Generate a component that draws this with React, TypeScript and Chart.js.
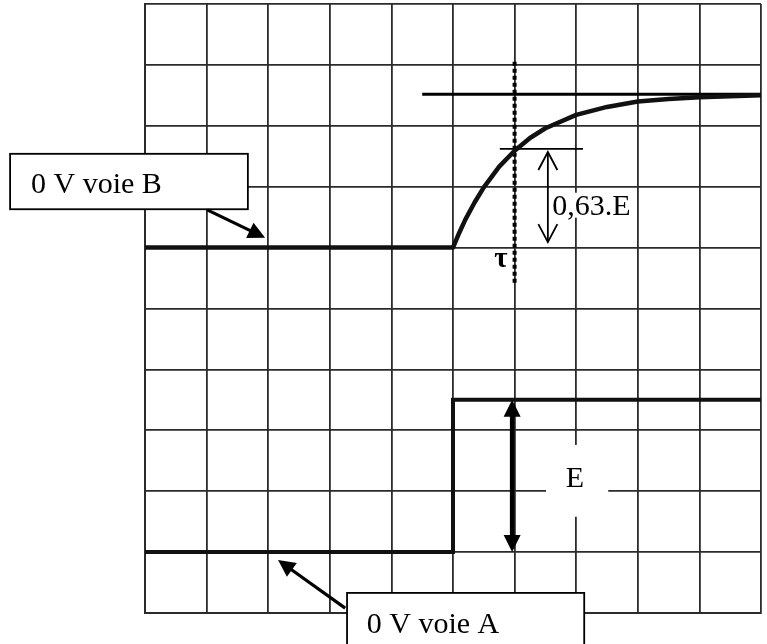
import React, { useEffect, useRef } from "react";
import { Chart, registerables } from "chart.js";

Chart.register(...registerables);

// Screen divisions (oscilloscope graticule)
const gridDivX = [0, 10];
const gridDivY = [0, 10];

// Voie B (capacitor voltage) : x in divisions, y in divisions
const voieBX = [0, 5, 5.1, 5.2, 5.35, 5.5, 5.75, 6, 6.25, 6.5, 7, 7.5, 8, 8.5, 9, 10];
const voieBY = [6, 6, 6.24, 6.46, 6.74, 6.99, 7.33, 7.59, 7.8, 7.96, 8.18, 8.31, 8.4, 8.44, 8.47, 8.5];

// Voie A (step input E)
const voieAX = [0, 5, 5, 10];
const voieAY = [1, 1, 3.5, 3.5];

// Asymptote line (final value)
const asymptoteX = [4.5, 10];
const asymptoteY = [8.52, 8.52];

// Tau marker (dotted vertical)
const tauX = [6, 6];
const tauY = [9.05, 5.42];

// 63 % level marker
const levelX = [5.76, 7.11];
const levelY = [7.62, 7.62];

const labels = {
  voieB: "0 V voie B",
  voieA: "0 V voie A",
  e63: "0,63.E",
  E: "E",
  tau: "τ",
};

const SERIF = '"Liberation Serif", "DejaVu Serif", serif';

function pts(xs: number[], ys: number[]) {
  return xs.map((x, i) => ({ x, y: ys[i] }));
}

function arrowHead(
  ctx: CanvasRenderingContext2D,
  x0: number, y0: number, x1: number, y1: number,
  len: number, half: number, filled: boolean, lw: number
) {
  const a = Math.atan2(y1 - y0, x1 - x0);
  const bx = x1 - len * Math.cos(a);
  const by = y1 - len * Math.sin(a);
  const nx = -Math.sin(a) * half;
  const ny = Math.cos(a) * half;
  ctx.beginPath();
  ctx.moveTo(bx + nx, by + ny);
  ctx.lineTo(x1, y1);
  ctx.lineTo(bx - nx, by - ny);
  if (filled) {
    ctx.closePath();
    ctx.fill();
  } else {
    ctx.lineWidth = lw;
    ctx.stroke();
  }
}

function arrow(
  ctx: CanvasRenderingContext2D,
  x0: number, y0: number, x1: number, y1: number,
  opts: { lw: number; len: number; half: number; filled: boolean; both?: boolean }
) {
  const a = Math.atan2(y1 - y0, x1 - x0);
  const inset = opts.filled ? opts.len * 0.8 : 0;
  const sx = opts.both ? x0 + inset * Math.cos(a) : x0;
  const sy = opts.both ? y0 + inset * Math.sin(a) : y0;
  const ex = x1 - inset * Math.cos(a);
  const ey = y1 - inset * Math.sin(a);
  ctx.lineWidth = opts.lw;
  ctx.lineCap = "butt";
  ctx.beginPath();
  ctx.moveTo(sx, sy);
  ctx.lineTo(ex, ey);
  ctx.stroke();
  arrowHead(ctx, x0, y0, x1, y1, opts.len, opts.half, opts.filled, opts.lw);
  if (opts.both) arrowHead(ctx, x1, y1, x0, y0, opts.len, opts.half, opts.filled, opts.lw);
}

const annotations = {
  id: "annotations",
  beforeDatasetsDraw(chart: any) {
    const { ctx } = chart;
    const px = (v: number) => chart.scales.x.getPixelForValue(v);
    const py = (v: number) => chart.scales.y.getPixelForValue(v);
    ctx.save();
    ctx.fillStyle = "#fff";
    // white patch behind "E"
    ctx.fillRect(px(6.51), py(2.76), px(7.52) - px(6.51), py(1.58) - py(2.76));
    // white patch behind "0,63.E"
    ctx.font = `30px ${SERIF}`;
    const w = ctx.measureText(labels.e63).width;
    ctx.fillRect(px(6.61) - 1, py(6.54) - 22, w + 2, 25);
    ctx.restore();
  },
  afterDatasetsDraw(chart: any) {
    const { ctx } = chart;
    const px = (v: number) => chart.scales.x.getPixelForValue(v);
    const py = (v: number) => chart.scales.y.getPixelForValue(v);
    ctx.save();
    ctx.strokeStyle = "#000";
    ctx.fillStyle = "#000";

    // 0,63.E double arrow (open heads)
    arrow(ctx, px(6.54), py(7.57), px(6.54), py(6.09), { lw: 1.8, len: 18, half: 9.5, filled: false, both: true });
    // E double arrow (filled heads)
    arrow(ctx, px(5.96), py(3.5), px(5.96), py(1.0), { lw: 4.5, len: 17, half: 8.5, filled: true, both: true });

    ctx.fillStyle = "#000";
    ctx.textBaseline = "alphabetic";
    ctx.font = `30px ${SERIF}`;
    ctx.textAlign = "left";
    ctx.fillText(labels.e63, px(6.61), py(6.54));
    ctx.textAlign = "center";
    ctx.fillText(labels.E, px(6.98), py(2.07));
    ctx.font = `bold 29px ${SERIF}`;
    ctx.fillText(labels.tau, px(5.78), py(5.68));

    // Label boxes
    const box = (x0: number, x1: number, y0: number, y1: number) => {
      const l = px(x0), r = px(x1), t = py(y0), b = py(y1);
      ctx.fillStyle = "#fff";
      ctx.fillRect(l, t, r - l, b - t);
      ctx.lineWidth = 1.8;
      ctx.strokeStyle = "#000";
      ctx.strokeRect(l, t, r - l, b - t);
    };
    box(-2.19, 1.67, 7.54, 6.63);
    box(3.28, 7.13, 0.33, -1.2);

    ctx.fillStyle = "#000";
    ctx.textAlign = "left";
    ctx.font = `30px ${SERIF}`;
    ctx.fillText(labels.voieB, px(-1.85), py(6.9));
    ctx.fillText(labels.voieA, px(3.6), py(-0.33));

    // pointer arrows
    arrow(ctx, px(1.01), py(6.62), px(1.95), py(6.16), { lw: 3.2, len: 17, half: 8.5, filled: true });
    arrow(ctx, px(3.25), py(0.08), px(2.16), py(0.87), { lw: 3.2, len: 17, half: 8.5, filled: true });
    ctx.restore();
  },
};

export default function App() {
  const canvasRef = useRef<HTMLCanvasElement | null>(null);

  useEffect(() => {
    document.body.style.margin = "0";
    const canvas = canvasRef.current;
    if (!canvas) return;
    const lineBase = {
      showLine: true,
      pointRadius: 0,
      fill: false,
      tension: 0,
      borderColor: "#111",
    };
    const chart = new Chart(canvas, {
      type: "scatter",
      data: {
        datasets: [
          { ...lineBase, label: "voie B", data: pts(voieBX, voieBY), borderWidth: 4.5, borderJoinStyle: "round" as const },
          { ...lineBase, label: "voie A", data: pts(voieAX, voieAY), borderWidth: 4, borderJoinStyle: "miter" as const },
          { ...lineBase, label: "asymptote", data: pts(asymptoteX, asymptoteY), borderWidth: 3, borderColor: "#000" },
          { ...lineBase, label: "tau", data: pts(tauX, tauY), borderWidth: 4, borderDash: [4, 3], borderColor: "#000" },
          { ...lineBase, label: "63%", data: pts(levelX, levelY), borderWidth: 1.8, borderColor: "#000" },
        ],
      },
      options: {
        responsive: false,
        animation: false,
        layout: { padding: { left: 145, top: 4, right: 6, bottom: 31 } },
        plugins: { legend: { display: false }, tooltip: { enabled: false } },
        scales: {
          x: {
            type: "linear",
            min: gridDivX[0],
            max: gridDivX[1],
            ticks: { display: false, stepSize: 1 },
            grid: { color: "#2b2b2b", lineWidth: 1.8, drawTicks: false },
            border: { display: true, color: "#2b2b2b", width: 2 },
          },
          y: {
            type: "linear",
            min: gridDivY[0],
            max: gridDivY[1],
            ticks: { display: false, stepSize: 1 },
            grid: { color: "#2b2b2b", lineWidth: 1.8, drawTicks: false },
            border: { display: true, color: "#2b2b2b", width: 2 },
          },
        },
      },
      plugins: [annotations],
    });
    return () => chart.destroy();
  }, []);

  return (
    <div style={{ width: 767, height: 644, position: "relative", background: "#fff" }}>
      <canvas ref={canvasRef} width={767} height={644} />
    </div>
  );
}
